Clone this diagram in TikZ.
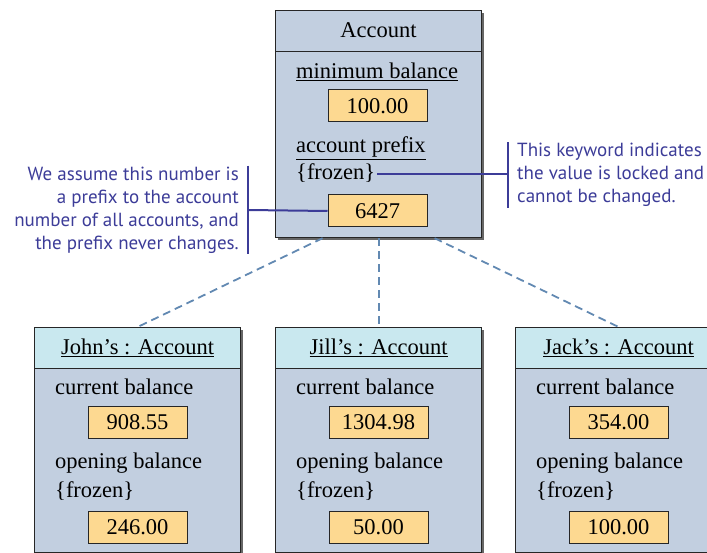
\documentclass[tikz,border=0pt]{standalone}
\usepackage{fontspec}
\setmainfont{Liberation Serif}
\newfontfamily\notefont{PT Sans}
\usetikzlibrary{shapes, arrows, positioning, calc, shadows}
\definecolor{bodyblue}{RGB}{194,207,224}
\definecolor{headcyan}{RGB}{201,232,239}
\definecolor{valorange}{RGB}{253,217,145}
\definecolor{noteblue}{RGB}{60,60,152}
\definecolor{linkblue}{RGB}{98,137,178}
\tikzset{
	classbox/.style={draw=black!85, fill=bodyblue, line width=1.2pt, minimum width=206pt, anchor=north west, inner sep=0pt, drop shadow={shadow xshift=2.5pt, shadow yshift=-2.5pt, fill=black!60, opacity=1}},
	classhead/.style={draw=black!85, line width=1.2pt, minimum width=206pt, minimum height=41pt, anchor=north west, inner sep=0pt},
	attr/.style={anchor=base west, inner sep=0pt},
	valbox/.style={draw=black!85, fill=valorange, line width=1pt, minimum width=99pt, minimum height=32pt, inner sep=0pt},
	note/.style={font=\notefont\fontsize{19}{23}\selectfont, text=noteblue, inner xsep=9pt, inner ysep=1pt},
	notebar/.style={draw=noteblue, line width=2pt},
	link/.style={draw=linkblue, line width=1.8pt, dash pattern=on 8pt off 5pt}
}
\begin{document}
\begin{tikzpicture}[x=1pt, y=-1pt, font=\fontsize{22.5}{26}\selectfont]
	\useasboundingbox (0,0) rectangle (707,553);
	\node[classbox, minimum height=227pt] (acc-box) at (275,10) {};
	\node[classhead, fill=bodyblue] (acc) at (275,10) {\raisebox{1.5pt}{Account}};
	\node[attr] (minbal) at (296,79) {\underline{minimum balance}};
	\node[valbox] (v100) at (377.5,106) {100.00};
	\node[attr] (prefix) at (296,153) {\underline{account prefix}};
	\node[attr] (frozen) at (296,180) {\{frozen\}};
	\node[valbox] (v6427) at (377.5,211) {6427};
	\node[note, anchor=west, align=left] (rnote) at (508,175) {This keyword indicates\\the value is locked and\\cannot be changed.};
	\node[note, anchor=east, align=right] (lnote) at (248,210) {We assume this number is\\a prefix to the account\\number of all accounts, and\\the prefix never changes.};
	\draw[notebar] (rnote.north west) -- (rnote.south west);
	\draw[notebar] ([xshift=2pt]frozen.east) -- (frozen.east -| rnote.west);
	\draw[notebar] (lnote.north east) -- (lnote.south east);
	\draw[notebar] (lnote.east) -- (v6427.west);
	\foreach \x/\nm/\who/\cur/\open in {34/john/John/908.55/246.00, 275/jill/Jill/1304.98/50.00, 515/jack/Jack/354.00/100.00}{
		\node[classbox, minimum height=225pt] (\nm-box) at (\x,327) {};
		\node[classhead, fill=headcyan] (\nm) at (\x,327) {\underline{\who's : Account}};
		\node[attr] (\nm-curlbl) at (\x+21,394) {current balance};
		\node[valbox] (\nm-cur) at (\x+103.5,422.5) {\cur};
		\node[attr] (\nm-openlbl) at (\x+21,468) {opening balance};
		\node[attr] (\nm-frozen) at (\x+21,497) {\{frozen\}};
		\node[valbox] (\nm-open) at (\x+103.5,527.5) {\open};
	}
	\draw[link] ([xshift=-56pt]acc-box.south) -- (john.north);
	\draw[link] (acc-box.south) -- (jill.north);
	\draw[link] ([xshift=56pt]acc-box.south) -- (jack.north);
\end{tikzpicture}
\end{document}
